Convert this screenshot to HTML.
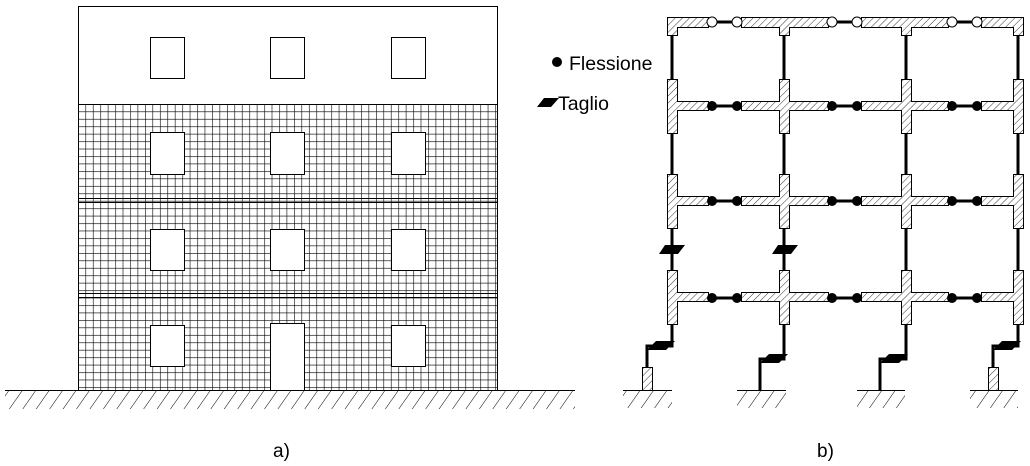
<!DOCTYPE html>
<html><head><meta charset="utf-8"><style>
body{margin:0;background:#fff;width:1030px;height:466px;overflow:hidden}
svg{display:block}
text{font-family:"Liberation Sans",Arial,sans-serif;fill:#000}
</style></head><body>
<svg width="1030" height="466" viewBox="0 0 1030 466">
<defs>
<pattern id="grid" x="78" y="104" width="7.45" height="7.45" patternUnits="userSpaceOnUse">
<path d="M0 0H7.45M0 0V7.45" stroke="#000" stroke-width="1.2" fill="none"/>
</pattern>
<pattern id="h" width="5" height="5" patternUnits="userSpaceOnUse" patternTransform="rotate(45)">
<line x1="0" y1="0" x2="0" y2="5" stroke="#000" stroke-width="0.8"/>
</pattern>
<pattern id="gh" width="11" height="12" patternUnits="userSpaceOnUse" patternTransform="rotate(35)">
<line x1="0" y1="0" x2="0" y2="12" stroke="#000" stroke-width="1"/>
</pattern>
</defs>
<rect x="78" y="104" width="419" height="286" fill="url(#grid)"/>
<rect x="78.5" y="6.5" width="419" height="384" fill="none" stroke="#000"/>
<line x1="78" y1="104.5" x2="497" y2="104.5" stroke="#000"/>
<line x1="78" y1="198.5" x2="497" y2="198.5" stroke="#000"/>
<line x1="78" y1="202.5" x2="497" y2="202.5" stroke="#000"/>
<line x1="78" y1="293.5" x2="497" y2="293.5" stroke="#000"/>
<line x1="78" y1="297.5" x2="497" y2="297.5" stroke="#000"/>
<g fill="#fff" stroke="#000">
<rect x="150.5" y="37.5" width="34" height="41"/><rect x="270.5" y="37.5" width="34" height="41"/><rect x="391.5" y="37.5" width="34" height="41"/>
<rect x="150.5" y="132.5" width="34" height="42"/><rect x="270.5" y="132.5" width="34" height="42"/><rect x="391.5" y="132.5" width="34" height="42"/>
<rect x="150.5" y="229.5" width="34" height="41"/><rect x="270.5" y="229.5" width="34" height="41"/><rect x="391.5" y="229.5" width="34" height="41"/>
<rect x="150.5" y="325.5" width="34" height="41"/><rect x="270.5" y="323.5" width="34" height="67"/><rect x="391.5" y="325.5" width="34" height="41"/>
</g>
<rect x="5" y="391" width="570" height="18" fill="url(#gh)"/>
<line x1="5" y1="390.5" x2="575" y2="390.5" stroke="#000"/>
<g stroke="#000" stroke-width="3" fill="none">
<line x1="672" y1="35" x2="672" y2="80"/><line x1="784" y1="35" x2="784" y2="80"/><line x1="906" y1="35" x2="906" y2="80"/><line x1="1018" y1="35" x2="1018" y2="80"/>
<line x1="672" y1="133" x2="672" y2="175"/><line x1="784" y1="133" x2="784" y2="175"/><line x1="906" y1="133" x2="906" y2="175"/><line x1="1018" y1="133" x2="1018" y2="175"/>
<line x1="672" y1="228" x2="672" y2="270"/><line x1="784" y1="228" x2="784" y2="270"/><line x1="906" y1="228" x2="906" y2="270"/><line x1="1018" y1="228" x2="1018" y2="270"/>
<polyline points="672,325 672,346 647,346 647,367"/>
<polyline points="784,325 784,359 760,359 760,390"/>
<polyline points="906,325 906,359 880,359 880,390"/>
<polyline points="1018,325 1018,346 993,346 993,367"/>
<line x1="708" y1="22" x2="741" y2="22"/><line x1="828" y1="22" x2="861" y2="22"/><line x1="948" y1="22" x2="981" y2="22"/>
<line x1="708" y1="106" x2="741" y2="106"/><line x1="828" y1="106" x2="861" y2="106"/><line x1="948" y1="106" x2="981" y2="106"/>
<line x1="708" y1="201" x2="741" y2="201"/><line x1="828" y1="201" x2="861" y2="201"/><line x1="948" y1="201" x2="981" y2="201"/>
<line x1="708" y1="298" x2="741" y2="298"/><line x1="828" y1="298" x2="861" y2="298"/><line x1="948" y1="298" x2="981" y2="298"/>
</g>
<g fill="url(#h)" stroke="#000" stroke-width="1">
<path d="M667.5 17.5H708.5V27.5H677.5V35.5H667.5Z"/>
<path d="M741.5 17.5H828.5V27.5H789.5V35.5H779.5V27.5H741.5Z"/>
<path d="M861.5 17.5H948.5V27.5H911.5V35.5H901.5V27.5H861.5Z"/>
<path d="M981.5 17.5H1023.5V35.5H1013.5V27.5H981.5Z"/>
</g>
<g id="fl" fill="url(#h)" stroke="#000" stroke-width="1">
<path d="M667.5 79.5H677.5V101.5H708.5V110.5H677.5V133.5H667.5Z"/>
<path d="M741.5 101.5H779.5V79.5H789.5V101.5H828.5V110.5H789.5V133.5H779.5V110.5H741.5Z"/>
<path d="M861.5 101.5H901.5V79.5H911.5V101.5H948.5V110.5H911.5V133.5H901.5V110.5H861.5Z"/>
<path d="M981.5 101.5H1013.5V79.5H1023.5V133.5H1013.5V110.5H981.5Z"/>
</g>
<use href="#fl" y="95"/>
<use href="#fl" y="191"/>
<rect x="642.5" y="367.5" width="10" height="23" fill="url(#h)" stroke="#000"/>
<rect x="988.5" y="367.5" width="10" height="23" fill="url(#h)" stroke="#000"/>
<g fill="#fff" stroke="#000" stroke-width="1">
<circle cx="712" cy="22" r="5"/><circle cx="737" cy="22" r="5"/><circle cx="832" cy="22" r="5"/><circle cx="857" cy="22" r="5"/><circle cx="952" cy="22" r="5"/><circle cx="977" cy="22" r="5"/>
</g>
<g fill="#000">
<circle cx="712" cy="106" r="5"/><circle cx="737" cy="106" r="5"/><circle cx="832" cy="106" r="5"/><circle cx="857" cy="106" r="5"/><circle cx="952" cy="106" r="5"/><circle cx="977" cy="106" r="5"/>
<circle cx="712" cy="201" r="5"/><circle cx="737" cy="201" r="5"/><circle cx="832" cy="201" r="5"/><circle cx="857" cy="201" r="5"/><circle cx="952" cy="201" r="5"/><circle cx="977" cy="201" r="5"/>
<circle cx="712" cy="298" r="5"/><circle cx="737" cy="298" r="5"/><circle cx="832" cy="298" r="5"/><circle cx="857" cy="298" r="5"/><circle cx="952" cy="298" r="5"/><circle cx="977" cy="298" r="5"/>
<polygon points="665,245 685,245 678,254 659,254"/>
<polygon points="778,245 798,245 791,254 772,254"/>
<polygon points="656,341 675,341 666,350 647,350"/>
<polygon points="769,354 788,354 779,363 760,363"/>
<polygon points="889,354 908,354 899,363 880,363"/>
<polygon points="1002,341 1021,341 1012,350 993,350"/>
<circle cx="557" cy="62" r="5"/>
<polygon points="544,98 559,98 551,107 537,107"/>
</g>
<g>
<rect x="623" y="391" width="49" height="17" fill="url(#gh)"/><line x1="623" y1="390.5" x2="672" y2="390.5" stroke="#000"/>
<rect x="737" y="391" width="49" height="17" fill="url(#gh)"/><line x1="737" y1="390.5" x2="786" y2="390.5" stroke="#000"/>
<rect x="857" y="391" width="48" height="17" fill="url(#gh)"/><line x1="857" y1="390.5" x2="905" y2="390.5" stroke="#000"/>
<rect x="970" y="391" width="48" height="17" fill="url(#gh)"/><line x1="970" y1="390.5" x2="1018" y2="390.5" stroke="#000"/>
</g>
<text x="569" y="70" font-size="19.5">Flessione</text>
<text x="558" y="110" font-size="19.5">Taglio</text>
<text x="273" y="457" font-size="19">a)</text>
<text x="817" y="457" font-size="19">b)</text>
</svg>
</body></html>
